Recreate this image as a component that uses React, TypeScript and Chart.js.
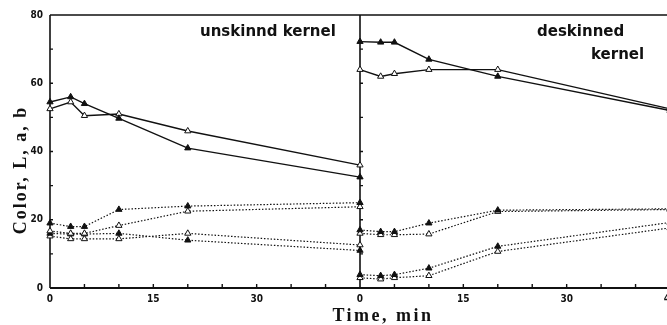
import React, { useEffect, useRef } from "react";
import { Chart, registerables } from "chart.js";

Chart.register(...registerables);

// Sampling times (min), the same for both panels
const times = [0, 3, 5, 10, 20, 45];
const panelSpan = 45; // each panel covers 0–45 min

// Tick labels
const xTickLabelsLeft = ["0", "15", "30"];
const xTickLabelsRight = ["0", "15", "30", "45"];
const yTickLabels = ["0", "20", "40", "60", "80"];

// Unskinned kernel
const unskL_filled = [54.5, 56, 54, 49.7, 41, 32.5];
const unskL_open = [52.5, 54.5, 50.5, 51, 46, 36];
const unskB_filled = [19, 18, 18, 23, 24, 25];
const unskB_open = [16.7, 16, 16, 18.3, 22.5, 23.8];
const unskA_filled = [16, 15.8, 15.8, 16, 14, 11];
const unskA_open = [15.2, 14.4, 14.4, 14.4, 16, 12.6];

// Deskinned kernel
const deskL_filled = [72.2, 72, 72, 67, 62, 52];
const deskL_open = [64, 62, 62.8, 64, 64, 52.5];
const deskB_filled = [17, 16.5, 16.5, 19, 22.8, 23.2];
const deskB_open = [16, 15.6, 15.6, 15.8, 22.4, 23];
const deskA_filled = [3.9, 3.6, 3.9, 5.8, 12.2, 19.2];
const deskA_open = [3, 2.6, 3, 3.6, 10.7, 17.6];

const INK = "#111";

function series(values: number[], offset: number, filled: boolean, dotted: boolean) {
  return {
    data: values.map((v, i) => ({ x: times[i] + offset, y: v })),
    borderColor: INK,
    borderWidth: dotted ? 1.2 : 1.4,
    borderDash: dotted ? [1.5, 1.8] : [],
    pointStyle: "triangle",
    pointRadius: 3.6,
    pointBorderWidth: 1,
    pointBorderColor: INK,
    pointBackgroundColor: filled ? INK : "#fff",
    backgroundColor: filled ? INK : "#fff",
    tension: 0,
    clip: false as const,
    fill: false,
  };
}

const framePlugin = {
  id: "frame",
  beforeDatasetsDraw(chart: any) {
    const { ctx, chartArea, scales } = chart;
    const xs = scales.x;
    const ys = scales.y;
    const { left, right, top, bottom } = chartArea;
    const divX = xs.getPixelForValue(panelSpan);
    ctx.save();
    ctx.strokeStyle = INK;
    ctx.lineWidth = 1.6;
    ctx.beginPath();
    ctx.moveTo(left, top);
    ctx.lineTo(right + 20, top);
    ctx.moveTo(left, top);
    ctx.lineTo(left, bottom);
    ctx.moveTo(divX, top);
    ctx.lineTo(divX, bottom);
    ctx.stroke();
    ctx.lineWidth = 2;
    ctx.beginPath();
    ctx.moveTo(left, bottom);
    ctx.lineTo(right + 20, bottom);
    ctx.stroke();
    // inward y ticks on both panel axes
    ctx.lineWidth = 1.4;
    ctx.beginPath();
    for (let v = 10; v < 80; v += 10) {
      const py = ys.getPixelForValue(v);
      ctx.moveTo(left, py);
      ctx.lineTo(left + 3, py);
      ctx.moveTo(divX, py);
      ctx.lineTo(divX + 3, py);
    }
    // inward x ticks every 5 min
    for (let v = 5; v < panelSpan * 2; v += 5) {
      if (v === panelSpan) continue;
      const px = xs.getPixelForValue(v);
      ctx.moveTo(px, bottom);
      ctx.lineTo(px, bottom - 4);
    }
    ctx.stroke();
    ctx.restore();
  },
  afterDraw(chart: any) {
    const { ctx } = chart;
    ctx.save();
    ctx.fillStyle = INK;
    // panel titles
    ctx.font = "bold 15px 'DejaVu Sans'";
    ctx.textBaseline = "alphabetic";
    ctx.textAlign = "left";
    ctx.fillText("unskinnd kernel", 200, 36);
    ctx.fillText("deskinned", 537, 36);
    ctx.fillText("kernel", 591, 59);
    // axis titles
    ctx.font = "bold 18px 'Liberation Serif'";
    (ctx as any).letterSpacing = "2.5px";
    ctx.textAlign = "center";
    ctx.textBaseline = "middle";
    ctx.fillText("Time, min", 383, 316);
    (ctx as any).letterSpacing = "2px";
    ctx.translate(21, 170);
    ctx.rotate(-Math.PI / 2);
    ctx.fillText("Color, L, a, b", 0, 0);
    ctx.restore();
  },
};

export default function App() {
  const ref = useRef<HTMLCanvasElement | null>(null);
  useEffect(() => {
    if (!ref.current) return;
    const chart = new Chart(ref.current, {
      type: "line",
      data: {
        datasets: [
          series(unskL_filled, 0, true, false),
          series(unskL_open, 0, false, false),
          series(unskB_filled, 0, true, true),
          series(unskB_open, 0, false, true),
          series(unskA_filled, 0, true, true),
          series(unskA_open, 0, false, true),
          series(deskL_filled, panelSpan, true, false),
          series(deskL_open, panelSpan, false, false),
          series(deskB_filled, panelSpan, true, true),
          series(deskB_open, panelSpan, false, true),
          series(deskA_filled, panelSpan, true, true),
          series(deskA_open, panelSpan, false, true),
        ] as any,
      },
      options: {
        animation: false,
        responsive: false,
        devicePixelRatio: 1,
        layout: { padding: { top: 15, right: 20, left: 0, bottom: 0 } },
        plugins: { legend: { display: false }, tooltip: { enabled: false }, title: { display: false } },
        scales: {
          x: {
            type: "linear",
            min: 0,
            max: panelSpan * 2,
            grid: { display: false, drawTicks: false },
            border: { display: false },
            afterFit: (s: any) => { s.height = 37; },
            ticks: {
              stepSize: 15,
              autoSkip: false,
              maxRotation: 0,
              padding: 5,
              color: INK,
              font: { family: "'DejaVu Sans Condensed', 'Liberation Sans Narrow'", weight: "bold", size: 10 },
              callback: (v: any) => {
                const n = Number(v);
                if (n < panelSpan) return xTickLabelsLeft[n / 15] ?? "";
                return xTickLabelsRight[(n - panelSpan) / 15] ?? "";
              },
            },
          },
          y: {
            type: "linear",
            min: 0,
            max: 80,
            grid: { display: false, drawTicks: false },
            border: { display: false },
            afterFit: (s: any) => { s.width = 50; },
            ticks: {
              stepSize: 20,
              padding: 7,
              color: INK,
              font: { family: "'DejaVu Sans Condensed', 'Liberation Sans Narrow'", weight: "bold", size: 10 },
              callback: (v: any) => yTickLabels[Number(v) / 20] ?? "",
            },
          },
        },
      } as any,
      plugins: [framePlugin],
    });
    return () => chart.destroy();
  }, []);
  return (
    <div style={{ position: "absolute", left: 0, top: 0, width: 667, height: 325, overflow: "hidden", background: "#fff" }}>
      <canvas ref={ref} width={690} height={325} style={{ width: 690, height: 325, display: "block" }} />
    </div>
  );
}
